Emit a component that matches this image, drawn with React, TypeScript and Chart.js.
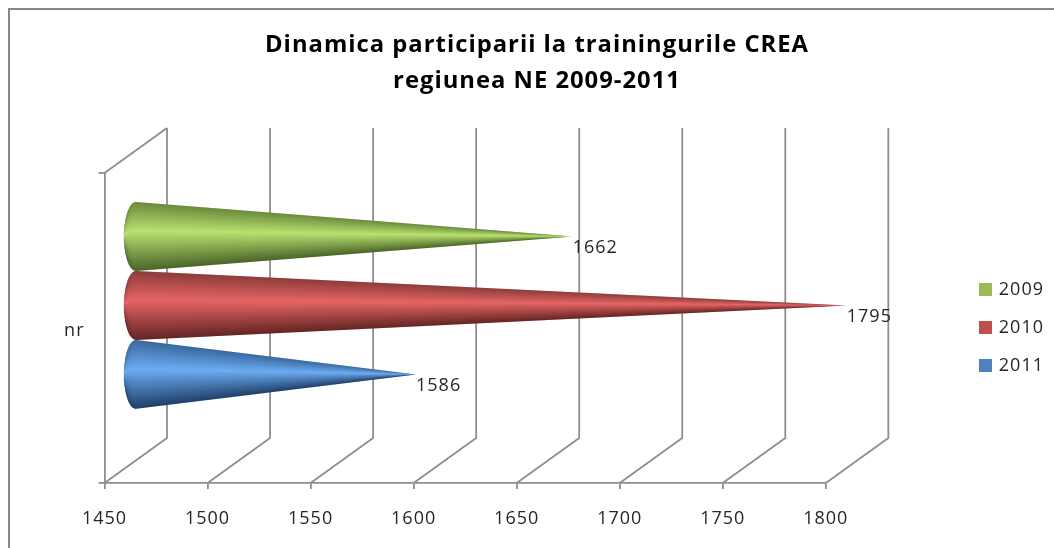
import React, { useEffect, useRef } from "react";
import { Chart, registerables } from "chart.js";

Chart.register(...registerables);

const categories = ["nr"];
const values2009 = [1662];
const values2010 = [1795];
const values2011 = [1586];
const seriesNames = ["2009", "2010", "2011"];
const seriesColors = ["#9BBB59", "#C0504D", "#4F81BD"];
const coneStops = [
  ["#6b8a3c", "#b9e170", "#4a6428"],
  ["#8c3c3a", "#e56564", "#632523"],
  ["#38689e", "#6cacf2", "#1f3f68"],
];
const titleLines = ["Dinamica participarii la trainingurile CREA", "regiunea NE 2009-2011"];
const FONT = "'Open Sans', sans-serif";
const GRID = "#8e8e8e";
const DEPTH_X = 62.5;
const DEPTH_Y = 45;

function legendSwatch(color: string) {
  const c = document.createElement("canvas");
  c.width = 13;
  c.height = 13;
  const g = c.getContext("2d") as CanvasRenderingContext2D;
  g.fillStyle = color;
  g.fillRect(0, 0, 13, 13);
  return c;
}

const cone3d = {
  id: "cone3d",
  beforeUpdate(chart: any) {
    chart.ctx.letterSpacing = "1px";
  },
  beforeDraw(chart: any) {
    const { ctx, width, height } = chart;
    ctx.save();
    ctx.strokeStyle = "#868686";
    ctx.lineWidth = 2;
    ctx.beginPath();
    ctx.moveTo(9, height);
    ctx.lineTo(9, 9);
    ctx.lineTo(width, 9);
    ctx.stroke();
    ctx.restore();
  },
  beforeDatasetsDraw(chart: any) {
    const { ctx, chartArea, scales } = chart;
    const { top, bottom, left } = chartArea;
    ctx.save();
    ctx.strokeStyle = GRID;
    ctx.lineWidth = 1.8;
    ctx.beginPath();
    ctx.moveTo(left, top);
    ctx.lineTo(left + DEPTH_X, top - DEPTH_Y);
    for (const t of scales.x.ticks) {
      const x = scales.x.getPixelForValue(t.value);
      ctx.moveTo(x, bottom);
      ctx.lineTo(x + DEPTH_X, bottom - DEPTH_Y);
      ctx.lineTo(x + DEPTH_X, top - DEPTH_Y);
    }
    ctx.stroke();
    ctx.restore();
  },
  beforeDatasetDraw(chart: any, args: any) {
    const { ctx, scales } = chart;
    const i = args.index;
    const stops = coneStops[i];
    const bar = chart.getDatasetMeta(i).data[0];
    const bx = scales.x.getPixelForValue(scales.x.min) + DEPTH_X / 2;
    const tip = bar.x + DEPTH_X / 2;
    const cy = bar.y - DEPTH_Y / 2;
    const r = bar.height / 2;
    const rx = 12;
    const L = tip - bx;
    const t = Math.acos(rx / L);
    const xp = bx + rx * Math.cos(t);
    const rp = r * Math.sin(t);
    ctx.save();
    ctx.beginPath();
    ctx.moveTo(tip, cy);
    ctx.ellipse(bx, cy, rx, r, 0, -t, t, true);
    ctx.closePath();
    ctx.clip();
    for (let x = Math.floor(bx - rx); x < tip; x += 1) {
      const mid = x + 0.5;
      const h = mid < xp
        ? r * Math.sqrt(Math.max(0.02, 1 - ((mid - bx) / rx) ** 2))
        : Math.max(0.4, (rp * (tip - mid)) / (tip - xp));
      const g = ctx.createLinearGradient(0, cy - h, 0, cy + h);
      g.addColorStop(0, stops[0]);
      g.addColorStop(0.42, stops[1]);
      g.addColorStop(1, stops[2]);
      ctx.fillStyle = g;
      ctx.fillRect(x, cy - h - 1, 1.2, 2 * h + 2);
    }
    ctx.restore();
    return false;
  },
  afterDatasetsDraw(chart: any) {
    const { ctx } = chart;
    ctx.save();
    ctx.font = "18px " + FONT;
    ctx.fillStyle = "#262626";
    ctx.textAlign = "left";
    ctx.textBaseline = "middle";
    chart.data.datasets.forEach((d: any, i: number) => {
      const bar = chart.getDatasetMeta(i).data[0];
      ctx.fillText(String(d.data[0]), bar.x + DEPTH_X / 2, bar.y - DEPTH_Y / 2 + 11);
    });
    ctx.restore();
  },
};

export default function App() {
  const ref = useRef<HTMLCanvasElement>(null);
  useEffect(() => {
    document.body.style.margin = "0";
    const chart = new Chart(ref.current as HTMLCanvasElement, {
      type: "bar",
      data: {
        labels: categories,
        datasets: [values2009, values2010, values2011].map((data, i) => ({
          label: seriesNames[i],
          data,
          backgroundColor: seriesColors[i],
          categoryPercentage: 0.667,
          barPercentage: 1,
        })),
      },
      options: {
        indexAxis: "y",
        animation: false,
        responsive: false,
        layout: { padding: { left: 20, right: 0, top: 0, bottom: 0 } },
        plugins: {
          title: {
            display: true,
            text: titleLines,
            color: "#000000",
            font: { family: FONT, size: 23.8, weight: "bold", lineHeight: 1.52 },
            padding: { top: 27, bottom: 73.6 },
          },
          legend: {
            position: "right",
            fullSize: false,
            labels: {
              usePointStyle: true,
              pointStyleWidth: 9,
              boxHeight: 13,
              padding: 20,
              color: "#262626",
              font: { family: FONT, size: 18 },
              generateLabels: (c: any) =>
                Chart.defaults.plugins.legend.labels
                  .generateLabels(c)
                  .map((l: any, i: number) => ({ ...l, pointStyle: legendSwatch(seriesColors[i]) })),
            },
          },
          tooltip: { enabled: false },
        },
        scales: {
          x: {
            type: "linear",
            min: 1450,
            max: 1800,
            ticks: {
              stepSize: 50,
              color: "#262626",
              padding: 19,
              font: { family: FONT, size: 18 },
              maxRotation: 0,
              callback: (v: any) => String(v),
            },
            grid: { drawOnChartArea: false, color: GRID, tickLength: 6, lineWidth: 1.8 },
            border: { color: GRID, width: 1.8 },
            afterFit: (s: any) => { s.height = 65; },
          },
          y: {
            type: "category",
            ticks: { color: "#262626", padding: 14, labelOffset: 3, font: { family: FONT, size: 18 } },
            grid: { drawOnChartArea: false, color: GRID, tickLength: 6, lineWidth: 1.8 },
            border: { color: GRID, width: 1.8 },
            afterFit: (s: any) => { s.width = 84.5; },
          },
          spacer: {
            type: "category",
            position: "right",
            labels: [""],
            ticks: { display: false },
            grid: { display: false },
            border: { display: false },
            afterFit: (s: any) => { s.width = 135; },
          },
        },
      },
      plugins: [cone3d],
    } as any);
    return () => chart.destroy();
  }, []);
  return <canvas ref={ref} width={1054} height={548} style={{ display: "block" }} />;
}
